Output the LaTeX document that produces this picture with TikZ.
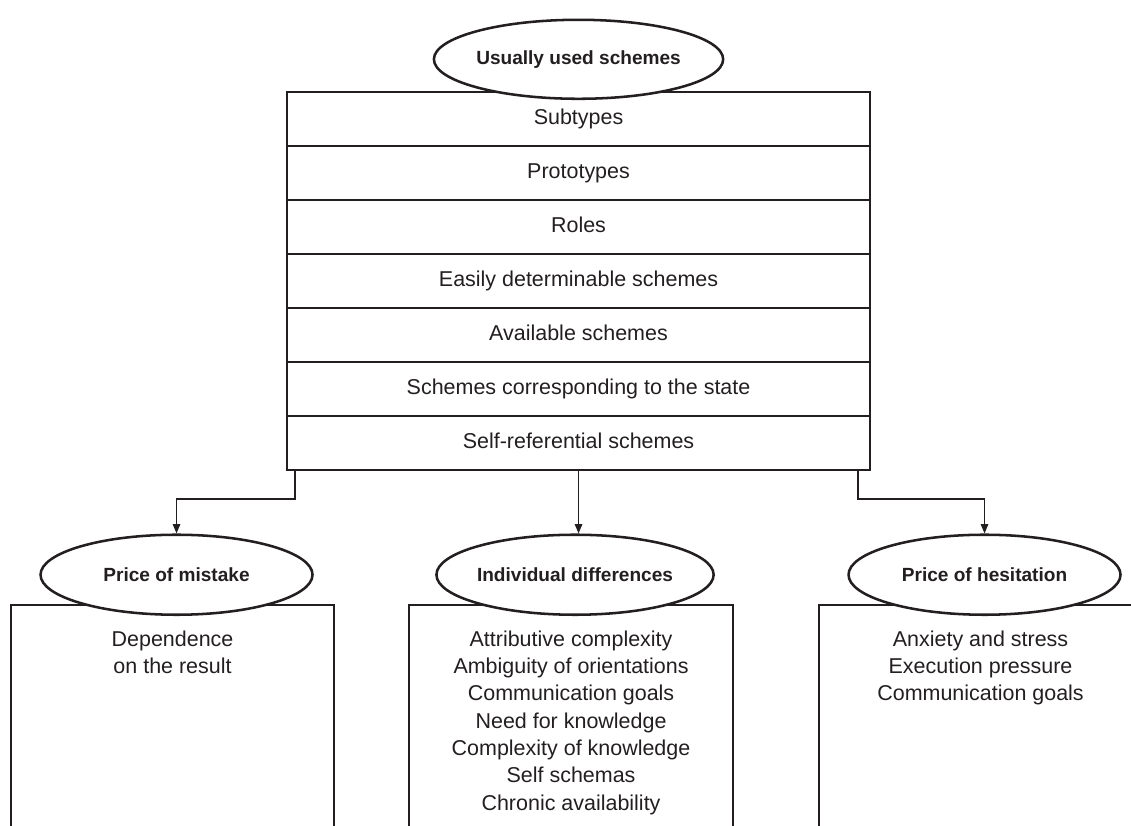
\documentclass[tikz,border=0pt]{standalone}
\usepackage{fontspec}
\setmainfont{Liberation Sans}
\usepackage{xcolor}
\usepackage{tikz}
\usetikzlibrary{shapes,arrows.meta,positioning,matrix}
\definecolor{ink}{HTML}{231F20}
\tikzstyle{oval} = [ellipse, draw=ink, line width=1.9pt, fill=white, minimum width=204pt, minimum height=60pt, inner sep=0pt, text=ink, font=\fontsize{14.3}{17}\selectfont\bfseries]
\tikzstyle{panel} = [draw=ink, line width=2pt, minimum width=242.25pt, minimum height=230pt, inner sep=0pt, outer sep=0pt]
\tikzstyle{itemtext} = [align=center, inner sep=0pt, text=ink, font=\fontsize{16.1}{20.5}\selectfont]
\tikzstyle{arrow} = [draw=ink, line width=1.2pt, -{Triangle[length=7pt,width=5.5pt]}]

\begin{document}
\begin{tikzpicture}
	\useasboundingbox (0,0) rectangle (848.25pt,-618.75pt);
	\clip (0,0) rectangle (848.25pt,-618.75pt);
	\matrix (array) [matrix of nodes, anchor=north, row sep=-2pt,
		nodes={draw=ink, line width=2pt, minimum width=437.25pt, minimum height=40.5pt, text height=11.5pt, text depth=3.5pt, inner sep=0pt, outer sep=0pt, text=ink, font=\fontsize{16.1}{20.5}\selectfont}] at (433.9pt,-64.5pt) {
		Subtypes \\
		Prototypes \\
		Roles \\
		Easily determinable schemes \\
		Available schemes \\
		Schemes corresponding to the state \\
		Self-referential schemes \\
	};
	\node (usual) [oval, minimum width=197pt, minimum height=59.25pt, above=-6pt of array-1-1.north] {Usually used schemes};

	% lower panels, open at the bottom
	\node (mistake-box) [panel, anchor=north] at (129.4pt,-453.75pt) {};
	\node (differences-box) [panel, minimum width=243pt, right=56.25pt of mistake-box] {};
	\node (hesitation-box) [panel, right=64.5pt of differences-box] {};

	\node (mistake) [oval, above=-8.25pt of mistake-box.north, xshift=3pt] {Price of mistake};
	\node (differences) [oval, above=-8.25pt of differences-box.north, xshift=3pt] {Individual differences};
	\node (hesitation) [oval, above=-8.25pt of hesitation-box.north, xshift=3pt] {Price of hesitation};

	\node (mistake-items) [itemtext, below=19pt of mistake-box.north] {Dependence\\on the result};
	\node (differences-items) [itemtext, below=19pt of differences-box.north] {Attributive complexity\\Ambiguity of orientations\\Communication goals\\Need for knowledge\\Complexity of knowledge\\Self schemas\\Chronic availability};
	\node (hesitation-items) [itemtext, below=19pt of hesitation-box.north] {Anxiety and stress\\Execution pressure\\Communication goals};

	% helper coordinates
	\coordinate (stub-l) at ([xshift=6pt]array-7-1.south west);
	\coordinate (stub-r) at ([xshift=-9pt]array-7-1.south east);
	\draw[arrow] (stub-l) -- ++(0,-21.75pt) -| (mistake.north);
	\draw[arrow] (array-7-1.south) -- (array-7-1.south |- differences.north);
	\draw[arrow] (stub-r) -- ++(0,-21.75pt) -| (hesitation.north);
\end{tikzpicture}
\end{document}
